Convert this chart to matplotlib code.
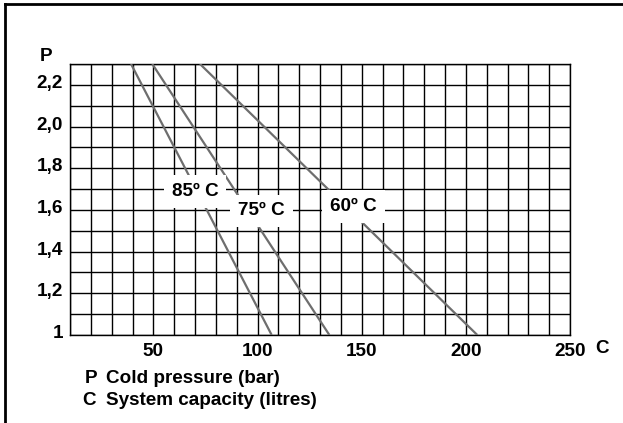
import matplotlib
matplotlib.use("Agg")
import matplotlib.pyplot as plt
import matplotlib.transforms as mtransforms
from matplotlib.lines import Line2D

# capacity (litres) where each temperature line meets P = 2.3 and P = 1.0 bar
pressure = [2.3, 1.0]
cap_85 = [39.3, 106.8]
cap_75 = [49.5, 134.5]
cap_60 = [72.4, 205.5]

curve_labels = ["85º C", "75º C", "60º C"]
label_pos = [(70, 1.69), (101.8, 1.595), (146, 1.615)]

x_ticks = [50, 100, 150, 200, 250]
y_ticks = [1.0, 1.2, 1.4, 1.6, 1.8, 2.0, 2.2]
y_tick_labels = ["1", "1,2", "1,4", "1,6", "1,8", "2,0", "2,2"]

plt.rcParams["font.family"] = ["Liberation Sans", "DejaVu Sans"]
plt.rcParams["font.weight"] = "bold"
FS = 13.6

fig = plt.figure(figsize=(6.23, 4.23), dpi=100)
ax = fig.add_axes([70 / 623, 1 - 335 / 423, 500 / 623, 271 / 423])

ax.set_xlim(10, 250)
ax.set_ylim(1.0, 2.3)

# grid every 10 litres / 0.1 bar
ax.set_xticks([v for v in range(10, 251, 10)], minor=True)
ax.set_yticks([1.0 + 0.1 * i for i in range(14)], minor=True)
ax.set_xticks(x_ticks)
ax.set_xticklabels([str(v) for v in x_ticks], fontsize=FS, fontweight="bold")
ax.set_yticks(y_ticks)
ax.set_yticklabels(y_tick_labels, fontsize=FS, fontweight="bold")
ax.grid(True, which="both", color="black", linewidth=1.0)
ax.set_axisbelow(True)
ax.tick_params(which="both", length=0)
ax.tick_params(axis="x", pad=5.5)
ax.tick_params(axis="y", pad=5)
for s in ax.spines.values():
    s.set_color("black")
    s.set_linewidth(1.0)

# nudge y labels up a bit like the original
up = mtransforms.ScaledTranslation(0, 2.5 / 72, fig.dpi_scale_trans)
for lab in ax.get_yticklabels():
    lab.set_transform(lab.get_transform() + up)

# temperature lines
line_color = "#6e6e6e"
for cap in (cap_85, cap_75, cap_60):
    ax.plot(cap, pressure, color=line_color, linewidth=1.6, zorder=3,
            solid_capstyle="butt")

for txt, (x, y) in zip(curve_labels, label_pos):
    ax.text(x, y, txt, ha="center", va="center", fontsize=FS, fontweight="bold",
            zorder=4,
            bbox=dict(boxstyle="square,pad=0.42", facecolor="white",
                      edgecolor="none"))

# axis letters
ax.annotate("P", xy=(0, 1), xycoords="axes fraction", xytext=(-17.3, 5.5),
            textcoords="offset points", ha="center", va="center",
            fontsize=FS, fontweight="bold")
ax.annotate("C", xy=(1, 0), xycoords="axes fraction", xytext=(22.8, -9.8),
            textcoords="offset points", ha="center", va="center",
            fontsize=FS, fontweight="bold")

# key below the chart
fig.text(85 / 623, 1 - 378.5 / 423, "P", ha="left", va="center",
         fontsize=FS, fontweight="bold")
fig.text(106 / 623, 1 - 378.5 / 423, "Cold pressure (bar)", ha="left",
         va="center", fontsize=FS, fontweight="bold")
fig.text(82.5 / 623, 1 - 400 / 423, "C", ha="left", va="center",
         fontsize=FS, fontweight="bold")
fig.text(106 / 623, 1 - 400 / 423, "System capacity (litres)", ha="left",
         va="center", fontsize=FS, fontweight="bold")

# outer frame (only top and left edges visible)
fig.add_artist(Line2D([4.5 / 623, 1.0], [1 - 4.5 / 423, 1 - 4.5 / 423],
                      transform=fig.transFigure, color="black", linewidth=2))
fig.add_artist(Line2D([4.5 / 623, 4.5 / 623], [0.0, 1 - 4.5 / 423],
                      transform=fig.transFigure, color="black", linewidth=2))

fig.savefig("out.png", dpi=100)
